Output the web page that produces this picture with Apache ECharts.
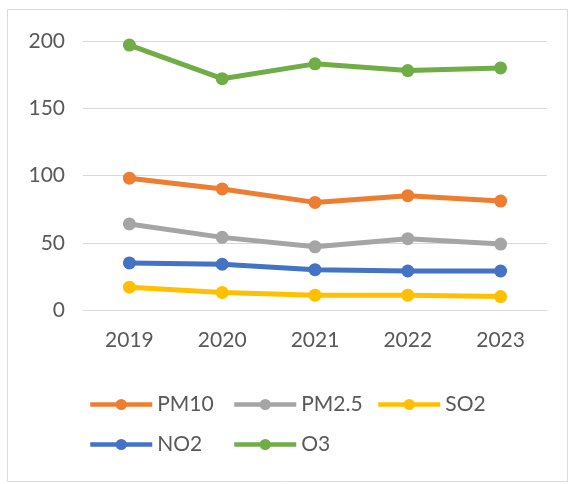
<!DOCTYPE html>
<html><head><meta charset="utf-8">
<script src="https://cdn.jsdelivr.net/npm/echarts@6/dist/echarts.min.js"></script>
<style>html,body{margin:0;padding:0;background:#fff}#c{width:576px;height:484px}</style>
</head><body><div id="c"></div>
<script>
const years = ['2019','2020','2021','2022','2023'];
const pm10 = [98, 90, 80, 85, 81];
const pm25 = [64, 54, 47, 53, 49];
const so2 = [17, 13, 11, 11, 10];
const no2 = [35, 34, 30, 29, 29];
const o3 = [197, 172, 183, 178, 180];
const seriesNames = ['PM10','PM2.5','SO2','NO2','O3'];
const seriesData = [pm10, pm25, so2, no2, o3];
const colors = ['#ED7D31','#A5A5A5','#FFC000','#4472C4','#70AD47'];

const chart = echarts.init(document.getElementById('c'), null, {renderer:'canvas'});
const font = 'Lato, "DejaVu Sans", sans-serif';
const legendPos = [[83,389],[227,389],[371,389],[83,429],[227,429]];
const legends = seriesNames.map((n,i)=>({
  data:[n], left:legendPos[i][0], top:legendPos[i][1],
  itemWidth:62, itemHeight:14, itemGap:0, selectedMode:false,
  lineStyle:{width:4.5},
  textStyle:{color:'#595959', fontSize:21, fontFamily:font}
}));
chart.setOption({
  animation:false,
  color: colors,
  graphic:[{type:'rect', shape:{x:7.5,y:9.5,width:560,height:472}, style:{fill:'none', stroke:'#d9d9d9', lineWidth:1}, z:-1}],
  grid:{left:83, right:29, top:41, bottom:174},
  xAxis:{type:'category', data:years, boundaryGap:true,
    axisLine:{lineStyle:{color:'#d9d9d9', width:1}}, axisTick:{show:false},
    axisLabel:{color:'#595959', fontSize:21, fontFamily:font, margin:20}},
  yAxis:{type:'value', min:0, max:200, interval:50,
    axisLine:{show:false}, axisTick:{show:false},
    splitLine:{lineStyle:{color:'#d9d9d9', width:1}},
    axisLabel:{color:'#595959', fontSize:21, fontFamily:font, margin:18}},
  legend: legends,
  series: seriesNames.map((n,i)=>({
    name:n, type:'line', data:seriesData[i], symbol:'circle', symbolSize:13,
    lineStyle:{width:5, color:colors[i]}, itemStyle:{color:colors[i]}
  }))
});
</script></body></html>
